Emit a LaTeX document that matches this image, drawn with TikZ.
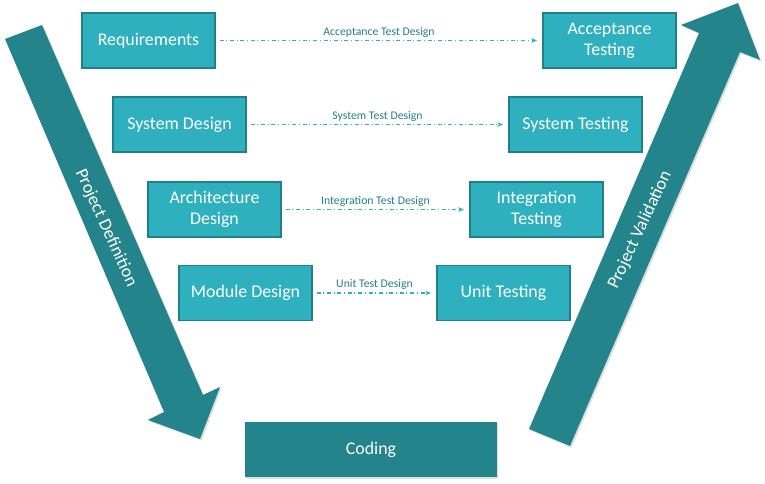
\documentclass[tikz,border=0pt]{standalone}
\usepackage{fontspec}
\setmainfont{Carlito}
\usepackage{tikz}
\usetikzlibrary{arrows.meta,shadows}
\definecolor{boxteal}{RGB}{47,176,191}
\definecolor{edgeteal}{RGB}{31,128,138}
\definecolor{darkteal}{RGB}{36,132,139}
\definecolor{labelteal}{RGB}{38,125,135}

\begin{document}
\begin{tikzpicture}[x=0.75pt,y=-0.75pt,
  phase/.style={draw=edgeteal,line width=0.8pt,fill=boxteal,text=white,minimum width=99.75pt,minimum height=41.25pt,inner sep=0pt,align=center,font=\fontsize{13.4}{16}\selectfont},
  testlink/.style={draw=boxteal,line width=0.8pt,dash dot,-{Stealth[length=4.5pt,width=3.5pt]},shorten <=3pt,shorten >=4pt},
  testlabel/.style={midway,above=1pt,inner sep=1pt,text=labelteal,font=\fontsize{8.8}{10}\selectfont},
  bigarrow/.style={fill=darkteal,drop shadow={opacity=0.25,shadow xshift=1.2pt,shadow yshift=-1.2pt}},
  arrowtext/.style={text=white,inner sep=0pt,font=\fontsize{13.4}{16}\selectfont}]
\useasboundingbox (0,0) rectangle (765,484);
% Draw the two big arrows
\fill[bigarrow] (5,39) -- (42,25) -- (203,395) -- (220,387) -- (200,439) -- (148,420) -- (164,412) -- cycle;
\fill[bigarrow] (529,429) -- (699,33) -- (681,25) -- (738,3) -- (760,60) -- (740,52) -- (570,446) -- cycle;
% Arrow labels
\node[arrowtext,rotate=-65.5] (definition) at (106,228) {Project Definition};
\node[arrowtext,rotate=65] (validation) at (640,230) {Project Validation};
% Design phases
\node[phase] (req) at (148.5,40.5) {Requirements};
\node[phase] (sysdes) at (179.5,124.5) {System Design};
\node[phase] (archdes) at (214.5,209.5) {Architecture\\Design};
\node[phase] (moddes) at (245.5,293) {Module Design};
% Testing phases
\node[phase] (acctest) at (609.5,40.5) {Acceptance\\Testing};
\node[phase] (systest) at (575.5,124.5) {System Testing};
\node[phase] (inttest) at (536.5,209.5) {Integration\\Testing};
\node[phase] (unittest) at (503.5,293) {Unit Testing};
% Coding at the bottom
\node[phase,draw=none,fill=darkteal,minimum width=189pt,drop shadow={opacity=0.25,shadow xshift=1pt,shadow yshift=-1.2pt}] (coding) at (371,449.5) {Coding};
% Test design links
\draw[testlink] (req) -- node[testlabel] {Acceptance Test Design} (acctest);
\draw[testlink] (sysdes) -- node[testlabel] {System Test Design} (systest);
\draw[testlink] (archdes) -- node[testlabel] {Integration Test Design} (inttest);
\draw[testlink] (moddes) -- node[testlabel] {Unit Test Design} (unittest);
\end{tikzpicture}
\end{document}
